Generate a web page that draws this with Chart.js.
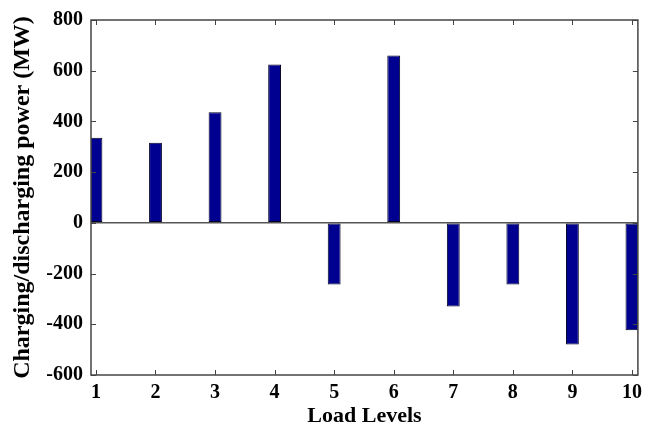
<!DOCTYPE html>
<html>
<head>
<meta charset="utf-8">
<script src="https://cdn.jsdelivr.net/npm/chart.js@4/dist/chart.umd.min.js"></script>
<style>
  html, body { margin: 0; padding: 0; background: #fff; }
  #wrap { width: 648px; height: 427px; }
</style>
</head>
<body>
<div id="wrap"><canvas id="myChart"></canvas></div>
<script>
// Datos
const loadLevels = [1, 2, 3, 4, 5, 6, 7, 8, 9, 10];
const power = [336, 316, 436, 625, -243, 660, -330, -243, -480, -424];
const yTicks = [-600, -400, -200, 0, 200, 400, 600, 800];

const serif = "'Liberation Serif', 'Times New Roman', serif";

// Marcas hacia adentro y borde del eje (estilo MATLAB)
const innerTicks = {
    id: 'innerTicks',
    afterDraw(chart) {
        const { ctx, chartArea: a, scales } = chart;
        ctx.save();
        ctx.strokeStyle = '#444';
        ctx.lineWidth = 1;
        ctx.beginPath();
        loadLevels.forEach(v => {
            const x = Math.round(scales.x.getPixelForValue(v)) + 0.5;
            ctx.moveTo(x, a.bottom); ctx.lineTo(x, a.bottom - 5);
            ctx.moveTo(x, a.top); ctx.lineTo(x, a.top + 5);
        });
        yTicks.forEach(v => {
            const y = Math.round(scales.y.getPixelForValue(v)) + 0.5;
            ctx.moveTo(a.left, y); ctx.lineTo(a.left + 5, y);
            ctx.moveTo(a.right, y); ctx.lineTo(a.right - 5, y);
        });
        ctx.stroke();
        ctx.lineWidth = 1.5;
        ctx.strokeRect(a.left, a.top, a.right - a.left, a.bottom - a.top);
        ctx.restore();
    }
};

let ctx = document.getElementById('myChart');
let myChart = new Chart(ctx, {
    type: 'bar',
    data: {
        datasets: [{
            data: loadLevels.map((x, i) => ({ x: x, y: power[i] })),
            backgroundColor: '#000090',
            borderColor: '#000022',
            borderWidth: 1,
            borderSkipped: false,
            barPercentage: 0.216,
            categoryPercentage: 1
        }]
    },
    options: {
        responsive: true,
        maintainAspectRatio: false,
        animation: false,
        layout: { padding: { left: 0, right: 5, top: 18, bottom: 0 } },
        plugins: { legend: { display: false }, tooltip: { enabled: false } },
        scales: {
            x: {
                type: 'linear',
                offset: false,
                min: 0.917,
                max: 10.1,
                afterBuildTicks: s => { s.ticks = loadLevels.map(v => ({ value: v })); },
                afterFit: s => { s.height = 52; },
                grid: { display: false, drawTicks: false },
                border: { display: false },
                ticks: {
                    color: '#000',
                    padding: 6,
                    maxRotation: 0,
                    autoSkip: false,
                    font: { family: serif, size: 20, weight: 'bold' }
                },
                title: {
                    display: true,
                    text: 'Load Levels',
                    color: '#000',
                    padding: { top: 0, bottom: -3 },
                    font: { family: serif, size: 22, weight: 'bold' }
                }
            },
            y: {
                min: -600,
                max: 800,
                afterBuildTicks: s => { s.ticks = yTicks.map(v => ({ value: v })); },
                afterFit: s => { s.width = 91; },
                grid: {
                    drawTicks: false,
                    color: c => c.tick && c.tick.value === 0 ? '#555' : 'rgba(0,0,0,0)',
                    lineWidth: 1.5
                },
                border: { display: false },
                ticks: {
                    color: '#000',
                    padding: 8,
                    font: { family: serif, size: 20, weight: 'bold' }
                },
                title: {
                    display: true,
                    text: 'Charging/discharging power (MW)',
                    color: '#000',
                    padding: { top: 8, bottom: 0 },
                    font: { family: serif, size: 24, weight: 'bold' }
                }
            }
        }
    },
    plugins: [innerTicks]
});
</script>
</body>
</html>
